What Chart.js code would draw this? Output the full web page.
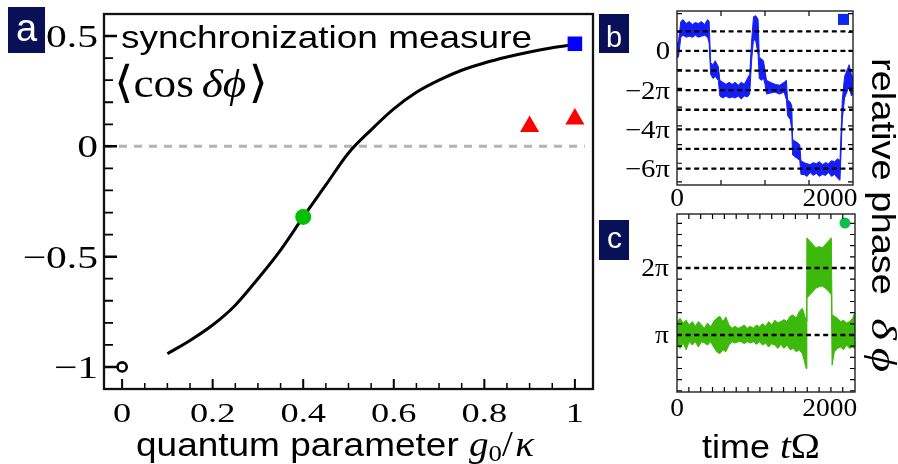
<!DOCTYPE html>
<html>
<head>
<meta charset="utf-8">
<script src="https://cdn.jsdelivr.net/npm/chart.js@4.4.1/dist/chart.umd.min.js"></script>
<style>
html,body{margin:0;padding:0;background:#fff;}
body{width:898px;height:464px;position:relative;overflow:hidden;}
canvas{position:absolute;}
</style>
</head>
<body>
<canvas id="panelA" width="898" height="464" style="left:0;top:0;width:898px;height:464px"></canvas>
<canvas id="panelB" width="298" height="215" style="left:600px;top:0;width:298px;height:215px"></canvas>
<canvas id="panelC" width="298" height="259" style="left:600px;top:205px;width:298px;height:259px"></canvas>
<script>
// ---------------- panel a data ----------------
const couplingG    = [0.10, 0.15, 0.20, 0.25, 0.30, 0.35, 0.40, 0.45, 0.50, 0.55, 0.60, 0.65, 0.70, 0.75, 0.80, 0.85, 0.90, 0.95, 1.00];
const syncMeasure  = [-0.94, -0.88, -0.81, -0.72, -0.60, -0.47, -0.32, -0.175, -0.03, 0.075, 0.17, 0.245, 0.30, 0.345, 0.378, 0.405, 0.428, 0.447, 0.462];
const classicalG   = [0];     const classicalSync = [-1];
const markedG      = [0.4];   const markedSync    = [-0.32];
const triangleG    = [0.9, 1.0]; const triangleSync = [0.09, 0.124];
const squareG      = [1.0];   const squareSync    = [0.465];
const zeroLineG    = [-0.04, 1.022]; const zeroLineSync = [0, 0];
const aXTicks      = [0, 0.2, 0.4, 0.6, 0.8, 1];
const aXTickLabels = ['0', '0.2', '0.4', '0.6', '0.8', '1'];
const aYTicks      = [-1, -0.5, 0, 0.5];
const aYTickLabels = ['\u22121', '\u22120.5', '0', '0.5'];

// ---------------- panel b data (phase in units of pi) ----------------
const bTime  = [0, 20, 50, 80, 120, 160, 200, 240, 280, 320, 360, 400, 420, 440, 470, 500, 540, 560, 600, 640, 680, 720, 760, 800, 840, 880, 920, 950, 975, 1000, 1030, 1060, 1075, 1100, 1130, 1150, 1170, 1220, 1280, 1340, 1400, 1430, 1445, 1480, 1500, 1510, 1540, 1580, 1605, 1620, 1660, 1700, 1740, 1780, 1820, 1860, 1900, 1940, 1980, 2020, 2060, 2100, 2130, 2160, 2190, 2220, 2250, 2280, 2300];
const bUpper = [0.4, 0.5, 1.5, 1.6, 1.4, 1.5, 1.35, 1.45, 1.4, 1.5, 1.35, 1.6, 1.5, -0.6, -0.7, -0.5, -0.8, -1.5, -1.6, -1.7, -1.6, -1.7, -1.6, -1.75, -1.6, -1.7, -1.4, -1.2, 0.5, 1.75, 1.8, 1.6, -0.3, -0.4, -0.5, -1.0, -1.5, -1.6, -1.7, -1.75, -1.6, -1.5, -2.5, -2.6, -2.8, -4.5, -4.6, -4.7, -4.8, -5.6, -5.7, -5.75, -5.8, -5.7, -5.75, -5.65, -5.8, -5.7, -5.75, -5.6, -5.65, -5.5, -5.6, -2.5, -1.3, -1.0, -0.7, -1.2, -1.3];
const bLower = [-0.35, -0.3, 0.7, 0.8, 0.7, 0.75, 0.7, 0.8, 0.7, 0.75, 0.8, 0.7, 0.4, -1.2, -1.4, -1.3, -1.5, -2.3, -2.4, -2.3, -2.4, -2.35, -2.4, -2.3, -2.45, -2.3, -2.35, -2.2, -0.5, 0.6, 0.5, -0.2, -1.4, -1.5, -1.4, -1.7, -2.2, -2.15, -2.1, -2.2, -2.1, -2.5, -3.3, -3.5, -4.0, -5.3, -5.4, -5.5, -5.6, -6.3, -6.3, -6.4, -6.2, -6.35, -6.25, -6.4, -6.3, -6.35, -6.2, -6.4, -6.3, -6.5, -6.6, -3.5, -2.4, -2.1, -1.8, -2.3, -2.2];
const bDashLevels  = [1, 0, -1, -2, -3, -4, -5, -6];
const bMarkerT     = [2176]; const bMarkerPhase = [1.61];
const bYTicks      = [0, -2, -4, -6];
const bYTickLabels = ['0', '\u22122\u03c0', '\u22124\u03c0', '\u22126\u03c0'];
const timeTicks      = [0, 2000];
const timeTickLabels = ['0', '2000'];

// ---------------- panel c data (phase in units of pi) ----------------
const cTime  = [0, 40, 80, 120, 160, 200, 240, 280, 320, 360, 400, 440, 480, 520, 560, 600, 640, 680, 720, 760, 800, 840, 880, 920, 960, 1000, 1040, 1080, 1120, 1160, 1200, 1240, 1280, 1320, 1360, 1400, 1440, 1480, 1520, 1560, 1600, 1640, 1670, 1690, 1700, 1740, 1780, 1820, 1860, 1900, 1940, 1980, 2020, 2030, 2060, 2100, 2140, 2180, 2220, 2260, 2300, 2330];
const cUpper = [1.2, 1.25, 1.18, 1.22, 1.15, 1.2, 1.13, 1.2, 1.15, 1.1, 1.18, 1.12, 1.2, 1.25, 1.28, 1.2, 1.27, 1.15, 1.1, 1.13, 1.1, 1.12, 1.15, 1.1, 1.13, 1.1, 1.15, 1.12, 1.17, 1.13, 1.2, 1.15, 1.22, 1.18, 1.2, 1.23, 1.2, 1.28, 1.3, 1.25, 1.35, 1.4, 1.3, 1.2, 2.45, 2.4, 2.35, 2.3, 2.32, 2.3, 2.35, 2.4, 2.45, 1.3, 1.28, 1.25, 1.2, 1.22, 1.18, 1.2, 1.25, 1.35];
const cLower = [0.85, 0.8, 0.88, 0.78, 0.9, 0.85, 0.9, 0.82, 0.9, 0.88, 0.85, 0.9, 0.82, 0.75, 0.72, 0.78, 0.75, 0.85, 0.9, 0.88, 0.9, 0.9, 0.87, 0.9, 0.88, 0.9, 0.86, 0.9, 0.85, 0.88, 0.82, 0.87, 0.85, 0.8, 0.86, 0.8, 0.85, 0.78, 0.8, 0.75, 0.78, 0.72, 0.6, 0.5, 1.55, 1.6, 1.65, 1.7, 1.72, 1.73, 1.7, 1.66, 1.6, 0.55, 0.75, 0.8, 0.82, 0.78, 0.85, 0.8, 0.82, 0.8];
const cDashLevels  = [1, 2];
const cMarkerT     = [2199]; const cMarkerPhase = [2.67];
const cYTicks      = [1, 2];
const cYTickLabels = ['\u03c0', '2\u03c0'];

// ---------------- helpers ----------------
const SERIF = '"Liberation Serif","DejaVu Serif",serif';
const SANS  = '"Liberation Sans","DejaVu Sans",sans-serif';
const NAVY  = '#0a1058';
const pts = (xs, ys) => xs.map((x, i) => ({ x: x, y: ys[i] }));

function runs(ctx, parts, x, y, o) {
  o = o || {};
  ctx.save();
  const ws = parts.map(p => { ctx.font = p.font; return ctx.measureText(p.t).width + (p.kern || 0); });
  const total = ws.reduce((a, b) => a + b, 0);
  const sx = o.width ? o.width / total : (o.sx || 1);
  ctx.translate(x, y);
  if (o.rotate) ctx.rotate(o.rotate);
  let start = 0;
  if (o.align === 'center') start = -total * sx / 2;
  else if (o.align === 'right') start = -total * sx;
  ctx.translate(start, 0);
  ctx.scale(sx, 1);
  ctx.fillStyle = o.color || '#000';
  ctx.textAlign = 'left';
  ctx.textBaseline = 'alphabetic';
  let cx = 0;
  parts.forEach((p, i) => { ctx.font = p.font; ctx.fillText(p.t, cx, p.dy || 0); cx += ws[i]; });
  ctx.restore();
}

function decorPlugin(spec) {
  return {
    id: 'decor',
    afterDraw(chart) {
      const ctx = chart.ctx, ca = chart.chartArea, xs = chart.scales.x, ys = chart.scales.y;
      ctx.save();
      ctx.lineCap = 'butt';
      spec.ticks.forEach(t => {
        ctx.strokeStyle = t.color || '#000';
        ctx.lineWidth = t.width;
        ctx.beginPath();
        t.values.forEach(v => {
          if (t.axis === 'x') {
            const p = xs.getPixelForValue(v);
            if (t.sides.indexOf('bottom') >= 0) { ctx.moveTo(p, ca.bottom); ctx.lineTo(p, ca.bottom - t.len); }
            if (t.sides.indexOf('top') >= 0) { ctx.moveTo(p, ca.top); ctx.lineTo(p, ca.top + t.len); }
          } else {
            const p = ys.getPixelForValue(v);
            if (t.sides.indexOf('left') >= 0) { ctx.moveTo(ca.left, p); ctx.lineTo(ca.left + t.len, p); }
            if (t.sides.indexOf('right') >= 0) { ctx.moveTo(ca.right, p); ctx.lineTo(ca.right - t.len, p); }
          }
        });
        ctx.stroke();
      });
      ctx.strokeStyle = spec.frameColor;
      ctx.lineWidth = spec.frameWidth;
      ctx.strokeRect(ca.left, ca.top, ca.right - ca.left, ca.bottom - ca.top);
      ctx.restore();
      spec.labels.forEach(l => {
        const font = l.size + 'px ' + SERIF;
        l.values.forEach((v, i) => {
          if (l.axis === 'x') {
            const p = xs.getPixelForValue(v);
            runs(ctx, [{ t: l.text[i], font: font }], p, ca.bottom + l.offset, { sx: l.sx, align: 'center' });
          } else {
            const p = ys.getPixelForValue(v);
            runs(ctx, [{ t: l.text[i], font: font }], ca.left - l.offset, p + 0.34 * l.size, { sx: l.sx, align: 'right' });
          }
        });
      });
      if (spec.extra) spec.extra(ctx, chart);
    }
  };
}

function baseOptions(pad, xr, yr, xh, yw) {
  return {
    responsive: false, animation: false, events: [], devicePixelRatio: 1,
    layout: { padding: pad },
    plugins: { legend: { display: false }, tooltip: { enabled: false } },
    elements: { line: { tension: 0 } },
    scales: {
      x: { type: 'linear', min: xr[0], max: xr[1], ticks: { display: false }, grid: { display: false }, border: { display: false }, afterFit(s) { s.height = xh; } },
      y: { type: 'linear', min: yr[0], max: yr[1], ticks: { display: false }, grid: { display: false }, border: { display: false }, afterFit(s) { s.width = yw; } }
    }
  };
}

// ---------------- figure-level text (drawn on panel a canvas) ----------------
function figureText(ctx) {
  ctx.save();
  ctx.fillStyle = NAVY;
  ctx.fillRect(8, 7, 37, 46);
  ctx.fillRect(599, 14, 30, 39);
  ctx.fillRect(599, 220, 30, 40);
  ctx.restore();
  runs(ctx, [{ t: 'a', font: '38px ' + SANS }], 26.5, 41, { align: 'center', color: '#fff' });
  runs(ctx, [{ t: 'b', font: '29px ' + SANS }], 614, 47, { align: 'center', color: '#fff' });
  runs(ctx, [{ t: 'c', font: '30px ' + SANS }], 614.5, 248, { align: 'center', color: '#fff' });

  runs(ctx, [{ t: 'synchronization measure', font: '32px ' + SANS }], 121, 48, { width: 411 });
  runs(ctx, [
    { t: '\u27e8', font: '44px ' + SERIF },
    { t: 'cos', font: '40px ' + SERIF, kern: 7 },
    { t: '\u03b4\u03d5', font: 'italic 40px ' + SERIF, kern: 2 },
    { t: '\u27e9', font: '44px ' + SERIF }
  ], 114, 97, { width: 154 });

  runs(ctx, [
    { t: 'quantum parameter ', font: '33px ' + SANS },
    { t: 'g', font: 'italic 35px ' + SERIF },
    { t: '0', font: '24px ' + SERIF, dy: 5 },
    { t: '/', font: '35px ' + SERIF, kern: 2 },
    { t: '\u03ba', font: 'italic 35px ' + SERIF }
  ], 136, 456, { width: 398 });

  runs(ctx, [
    { t: 'time ', font: '33px ' + SANS },
    { t: 't', font: 'italic 36px ' + SERIF },
    { t: '\u03a9', font: '36px ' + SERIF }
  ], 702, 458, { width: 118 });

  runs(ctx, [{ t: 'relative phase', font: '34px ' + SANS }], 872, 58, { width: 237, rotate: Math.PI / 2 });
  runs(ctx, [{ t: '\u03b4', font: 'italic 36px ' + SERIF, kern: 6 }, { t: '\u03d5', font: 'italic 36px ' + SERIF }], 872, 318, { width: 54, rotate: Math.PI / 2 });
}

// ---------------- panel a ----------------
const aMinorX = []; for (let k = 0; k <= 20; k++) if (k % 4) aMinorX.push(k * 0.05);
const aMinorY = []; for (let k = -10; k <= 5; k++) if (k % 5) aMinorY.push(k * 0.1);

new Chart(document.getElementById('panelA'), {
  type: 'line',
  data: { datasets: [
    { data: pts(squareG, squareSync), showLine: false, pointStyle: 'rect', pointRadius: 10.3, backgroundColor: '#0000ff', borderColor: '#0000ff', borderWidth: 0, order: 0 },
    { data: pts(triangleG, triangleSync), showLine: false, pointStyle: 'triangle', pointRadius: 11, backgroundColor: '#ff0000', borderColor: '#ff0000', borderWidth: 0, order: 0 },
    { data: pts(markedG, markedSync), showLine: false, pointStyle: 'circle', pointRadius: 8, backgroundColor: '#00be00', borderColor: '#00be00', borderWidth: 0, order: 0 },
    { data: pts(classicalG, classicalSync), showLine: false, pointStyle: 'circle', pointRadius: 4.6, backgroundColor: '#ffffff', borderColor: '#000000', borderWidth: 2.6, order: 0 },
    { data: pts(couplingG, syncMeasure), showLine: true, borderColor: '#000', backgroundColor: '#000', borderWidth: 3, pointRadius: 0, cubicInterpolationMode: 'monotone', fill: false, order: 1 },
    { data: pts(zeroLineG, zeroLineSync), showLine: true, borderColor: '#b4b4b4', backgroundColor: '#b4b4b4', borderWidth: 3, borderDash: [8, 7], pointRadius: 0, fill: false, order: 2 }
  ]},
  options: baseOptions({ left: 0, top: 14, right: 305, bottom: 0 }, [-0.04, 1.04], [-1.1, 0.6], 75, 104),
  plugins: [decorPlugin({
    frameColor: '#111', frameWidth: 2.3,
    ticks: [
      { axis: 'x', values: aXTicks, sides: ['bottom'], len: 10, width: 2 },
      { axis: 'x', values: aMinorX, sides: ['bottom'], len: 6, width: 1.5 },
      { axis: 'y', values: aYTicks, sides: ['left'], len: 13, width: 2.5 },
      { axis: 'y', values: aMinorY, sides: ['left'], len: 9, width: 1.8 }
    ],
    labels: [
      { axis: 'x', values: aXTicks, text: aXTickLabels, size: 28, sx: 1.3, offset: 32.5 },
      { axis: 'y', values: aYTicks, text: aYTickLabels, size: 32, sx: 1.3, offset: 6 }
    ],
    extra: figureText
  })]
});

// ---------------- panel b ----------------
const BLUE = 'rgb(20,30,245)';
const bTicksY = []; for (let k = -7; k <= 2; k++) bTicksY.push(k * 3 / Math.PI);
const bDatasets = [
  { data: pts(bTime, bUpper), showLine: true, borderColor: BLUE, borderWidth: 1, pointRadius: 0, fill: false, order: 2 },
  { data: pts(bTime, bLower), showLine: true, borderColor: BLUE, backgroundColor: BLUE, borderWidth: 1, pointRadius: 0, fill: 0, order: 2 }
];
bDashLevels.forEach(l => bDatasets.push({ data: pts([0, 2300], [l, l]), showLine: true, borderColor: '#000', borderWidth: 2.3, borderDash: [5, 3.6], pointRadius: 0, fill: false, order: 1 }));
bDatasets.push({ data: pts(bMarkerT, bMarkerPhase), showLine: false, pointStyle: 'rect', pointRadius: 7.8, backgroundColor: '#0a28f0', borderColor: '#0a28f0', borderWidth: 0, order: 0 });

new Chart(document.getElementById('panelB'), {
  type: 'line',
  data: { datasets: bDatasets },
  options: baseOptions({ left: 0, top: 11, right: 45, bottom: 0 }, [0, 2300], [-6.84, 2.04], 30, 77),
  plugins: [decorPlugin({
    frameColor: '#222', frameWidth: 1.4,
    ticks: [
      { axis: 'x', values: [575, 1150, 1725], sides: ['bottom', 'top'], len: 5, width: 1.2 },
      { axis: 'y', values: bTicksY, sides: ['left', 'right'], len: 5, width: 1.2 }
    ],
    labels: [
      { axis: 'x', values: timeTicks, text: timeTickLabels, size: 25, sx: 1.1, offset: 20.5 },
      { axis: 'y', values: bYTicks, text: bYTickLabels, size: 25, sx: 1.15, offset: 7 }
    ]
  })]
});

// ---------------- panel c ----------------
const GREEN = 'rgb(60,185,10)';
const cTicksX = []; for (let k = 1; k <= 14; k++) cTicksX.push(k * 155);
const cTicksY = []; for (let k = 1; k <= 16; k++) cTicksY.push(k / 6);
const cDatasets = [
  { data: pts(cTime, cUpper), showLine: true, borderColor: GREEN, borderWidth: 1, pointRadius: 0, fill: false, order: 2 },
  { data: pts(cTime, cLower), showLine: true, borderColor: GREEN, backgroundColor: GREEN, borderWidth: 1, pointRadius: 0, fill: 0, order: 2 }
];
cDashLevels.forEach(l => cDatasets.push({ data: pts([0, 2330], [l, l]), showLine: true, borderColor: '#000', borderWidth: 2.3, borderDash: [5, 3.6], pointRadius: 0, fill: false, order: 1 }));
cDatasets.push({ data: pts(cMarkerT, cMarkerPhase), showLine: false, pointStyle: 'circle', pointRadius: 5.5, backgroundColor: '#0abf4a', borderColor: '#0abf4a', borderWidth: 0, order: 0 });

new Chart(document.getElementById('panelC'), {
  type: 'line',
  data: { datasets: cDatasets },
  options: baseOptions({ left: 0, top: 9, right: 43, bottom: 0 }, [0, 2330], [0.149, 2.806], 72, 77),
  plugins: [decorPlugin({
    frameColor: '#222', frameWidth: 1.4,
    ticks: [
      { axis: 'x', values: cTicksX, sides: ['bottom', 'top'], len: 5, width: 1.2 },
      { axis: 'y', values: cTicksY, sides: ['left', 'right'], len: 5, width: 1.2 }
    ],
    labels: [
      { axis: 'x', values: timeTicks, text: timeTickLabels, size: 25, sx: 1.1, offset: 23.5 },
      { axis: 'y', values: cYTicks, text: cYTickLabels, size: 25, sx: 1.1, offset: 8 }
    ]
  })]
});
</script>
</body>
</html>
